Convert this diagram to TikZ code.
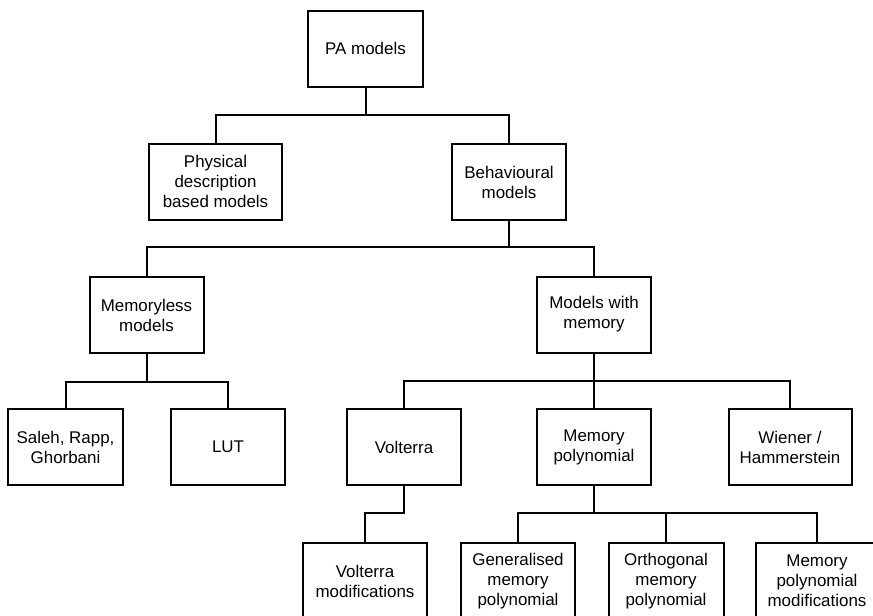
\documentclass[tikz,border=0pt]{standalone}
\usepackage{fontspec}
\setmainfont{Liberation Sans}
\begin{document}
\begin{tikzpicture}[x=0.75pt,y=-0.75pt,
  box/.style={draw=black,line width=1.5pt,rectangle,align=center,
    minimum height=76*0.75pt,inner sep=0pt,
    font=\fontsize{12.7pt}{15pt}\selectfont},
  wire/.style={draw=black,line width=1.5pt}]
\path[use as bounding box,clip] (0,0) rectangle (873,615);
\fill[white] (0,0) rectangle (873,615);

% tree nodes
\node[box,minimum width=115*0.75pt] (pa)    at (365.5,48.5) {PA models};
\node[box,minimum width=133*0.75pt] (phys)  at (215.5,181.5) {Physical\\description\\based models};
\node[box,minimum width=114*0.75pt] (beh)   at (509,182) {Behavioural\\models};
\node[box,minimum width=114*0.75pt] (meml)  at (146.5,315) {Memoryless\\models};
\node[box,minimum width=114*0.75pt] (mwm)   at (594,314.5) {Models with\\memory};
\node[box,minimum width=115*0.75pt] (saleh) at (65.5,447) {Saleh, Rapp,\\Ghorbani};
\node[box,minimum width=114*0.75pt] (lut)   at (228,447) {LUT};
\node[box,minimum width=114*0.75pt] (volt)  at (404,447) {Volterra};
\node[box,minimum width=114*0.75pt] (mpoly) at (594,447) {Memory\\polynomial};
\node[box,minimum width=123*0.75pt] (wien)  at (790,447) {Wiener /\\Hammerstein};
\node[box,minimum width=124*0.75pt] (vmod)  at (365,581) {Volterra\\modifications};
\node[box,minimum width=114*0.75pt] (gmp)   at (518,581) {Generalised\\memory\\polynomial};
\node[box,minimum width=115*0.75pt] (omp)   at (666,581) {Orthogonal\\memory\\polynomial};
\node[box,minimum width=122*0.75pt] (mpm)   at (817,581) {Memory\\polynomial\\modifications};

% bus heights
\coordinate (b1) at (365.5,115);
\coordinate (b2) at (509,247);
\coordinate (b3) at (146.5,382);
\coordinate (b4) at (594,381);
\coordinate (b5) at (404,513);
\coordinate (b6) at (594,513);

% connectors
\draw[wire] (pa.south) -- (b1);
\draw[wire] (phys.north) |- (b1) -| (beh.north);
\draw[wire] (beh.south) -- (b2);
\draw[wire] (meml.north) |- (b2) -| (mwm.north);
\draw[wire] (meml.south) -- (b3);
\draw[wire] (saleh.north) |- (b3) -| (lut.north);
\draw[wire] (mwm.south) -- (mpoly.north);
\draw[wire] (volt.north) |- (b4) -| (wien.north);
\draw[wire] (volt.south) -- (b5) -| (vmod.north);
\draw[wire] (mpoly.south) -- (b6);
\draw[wire] (gmp.north) |- (b6) -| (mpm.north);
\draw[wire] (omp.north) -- (omp.north |- b6);
\end{tikzpicture}
\end{document}
